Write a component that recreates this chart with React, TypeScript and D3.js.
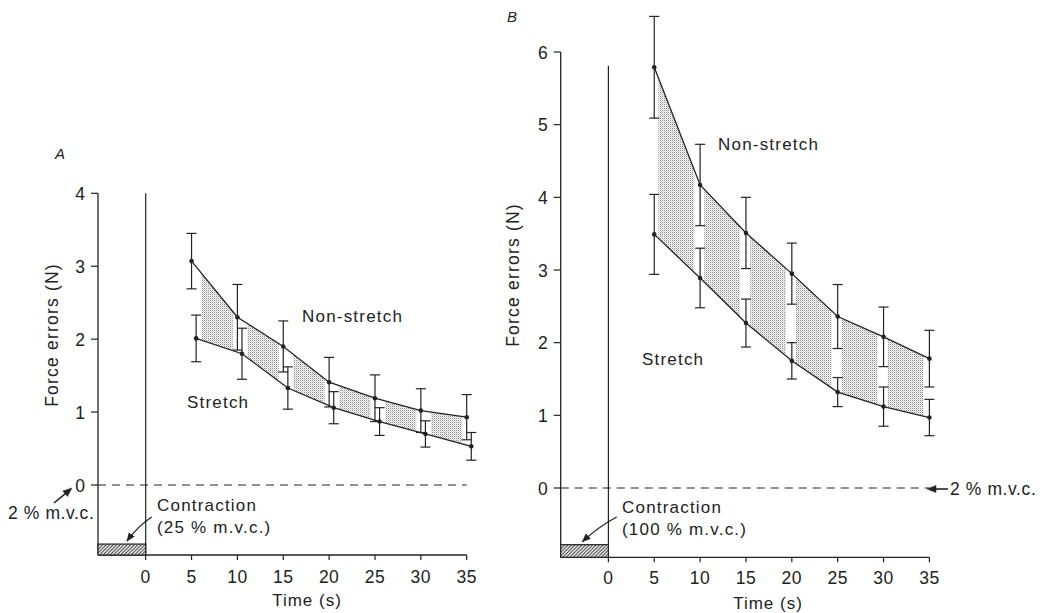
import React from 'react';
import * as d3 from 'd3';

// ---------- data ----------
const times = [5, 10, 15, 20, 25, 30, 35];
const xTicks = [0, 5, 10, 15, 20, 25, 30, 35];
const aYTicks = [0, 1, 2, 3, 4];
const bYTicks = [0, 1, 2, 3, 4, 5, 6];

const aNonStretch = [3.07, 2.3, 1.9, 1.41, 1.19, 1.02, 0.93];
const aNonStretchErr = [0.38, 0.45, 0.35, 0.34, 0.32, 0.3, 0.31];
const aStretch = [2.01, 1.8, 1.33, 1.06, 0.87, 0.7, 0.53];
const aStretchErr = [0.32, 0.35, 0.29, 0.22, 0.19, 0.18, 0.19];

const bNonStretch = [5.79, 4.17, 3.51, 2.95, 2.36, 2.08, 1.78];
const bNonStretchErr = [0.7, 0.56, 0.49, 0.42, 0.44, 0.41, 0.39];
const bStretch = [3.49, 2.89, 2.27, 1.75, 1.32, 1.12, 0.97];
const bStretchErr = [0.55, 0.41, 0.33, 0.25, 0.2, 0.27, 0.25];

const FONT = "'Liberation Sans', Arial, Helvetica, sans-serif";
const INK = '#222';

type Layout = {
  id: string;
  letter: string;
  letterPos: [number, number];
  left: number;
  right: number;
  y0: number;
  yMax: number;
  yTopPx: number;
  yTicks: number[];
  bottomVal: number;
  barTopVal: number;
  vlineTopVal: number;
  stretchOffset: number;
  gapAfter: number;
  gapBefore: number;
  nonStretch: number[];
  nonStretchErr: number[];
  stretch: number[];
  stretchErr: number[];
  yLabel: [number, number];
  timeLabel: [number, number];
  tickLabelDy: number;
  nonStretchLabel: [number, number];
  stretchLabel: [number, number];
  contraction: [number, number];
  contractionPct: string;
  contractionArrow: string;
  mvcArrow: [number, number, number, number];
  mvcText: [number, number];
};

const layoutA: Layout = {
  id: 'A',
  letter: 'A',
  letterPos: [55, 159],
  left: 98,
  right: 466.7,
  y0: 485,
  yMax: 4,
  yTopPx: 193.3,
  yTicks: aYTicks,
  bottomVal: -0.96,
  barTopVal: -0.81,
  vlineTopVal: 4.0,
  stretchOffset: 0.5,
  gapAfter: 0.6,
  gapBefore: 0.5,
  nonStretch: aNonStretch,
  nonStretchErr: aNonStretchErr,
  stretch: aStretch,
  stretchErr: aStretchErr,
  yLabel: [52, 335],
  timeLabel: [307, 606],
  tickLabelDy: 28,
  nonStretchLabel: [302, 322],
  stretchLabel: [187, 408],
  contraction: [157, 511],
  contractionPct: '(25 % m.v.c.)',
  contractionArrow: 'M151.7,517 Q138,526 127,541',
  mvcArrow: [54, 503, 72, 488],
  mvcText: [8, 519],
};

const layoutB: Layout = {
  id: 'B',
  letter: 'B',
  letterPos: [507, 22],
  left: 560.7,
  right: 929.4,
  y0: 488,
  yMax: 6,
  yTopPx: 52,
  yTicks: bYTicks,
  bottomVal: -0.954,
  barTopVal: -0.78,
  vlineTopVal: 5.81,
  stretchOffset: 0,
  gapAfter: 0.45,
  gapBefore: 0.65,
  nonStretch: bNonStretch,
  nonStretchErr: bNonStretchErr,
  stretch: bStretch,
  stretchErr: bStretchErr,
  yLabel: [513, 275],
  timeLabel: [768, 609],
  tickLabelDy: 27,
  nonStretchLabel: [718, 150],
  stretchLabel: [642, 365],
  contraction: [622, 513],
  contractionPct: '(100 % m.v.c.)',
  contractionArrow: 'M616.7,517 Q598,527 582.4,541.7',
  mvcArrow: [948, 489, 927, 489],
  mvcText: [950, 495],
};

const txt = (size = 17, ls = 1.2): React.CSSProperties => ({
  fontFamily: FONT,
  fontSize: size,
  letterSpacing: `${ls}px`,
  fill: INK,
});

// straight arrow with an explicit filled head at (x2, y2)
function arrowPaths(x1: number, y1: number, x2: number, y2: number) {
  const ang = Math.atan2(y2 - y1, x2 - x1);
  const L = 9;
  const W = 3.6;
  const bx = x2 - L * Math.cos(ang);
  const by = y2 - L * Math.sin(ang);
  const nx = -Math.sin(ang) * W;
  const ny = Math.cos(ang) * W;
  return {
    shaft: `M${x1},${y1} L${bx},${by}`,
    head: `M${x2},${y2} L${bx + nx},${by + ny} L${bx - nx},${by - ny} Z`,
  };
}

function Panel({ p }: { p: Layout }) {
  const x = d3.scaleLinear().domain([-5.2, 35]).range([p.left, p.right]);
  const y = d3.scaleLinear().domain([0, p.yMax]).range([p.y0, p.yTopPx]);
  const bottom = y(p.bottomVal);

  const nsPts: [number, number][] = times.map((t, i) => [x(t), y(p.nonStretch[i])]);
  const sPts: [number, number][] = times.map((t, i) => [x(t + p.stretchOffset), y(p.stretch[i])]);
  const line = d3.line();
  const areaPath = line([...nsPts, ...sPts.slice().reverse()]) + 'Z';

  const segs = times.slice(0, -1).map((t, i) => ({
    x0: x(t + p.stretchOffset + p.gapAfter),
    x1: x(times[i + 1] - p.gapBefore),
  }));

  const clipId = `clip-${p.id}`;
  const cap = 5;
  const mvc = arrowPaths(...p.mvcArrow);

  const errBar = (cx: number, v: number, e: number, key: string) => (
    <g key={key} stroke={INK} strokeWidth={1.2}>
      <line x1={cx} x2={cx} y1={y(v + e)} y2={y(v - e)} />
      <line x1={cx - cap} x2={cx + cap} y1={y(v + e)} y2={y(v + e)} />
      <line x1={cx - cap} x2={cx + cap} y1={y(v - e)} y2={y(v - e)} />
    </g>
  );

  return (
    <g>
      <defs>
        <clipPath id={clipId}>
          {segs.map((s, i) => (
            <rect key={i} x={s.x0} y={0} width={s.x1 - s.x0} height={613} />
          ))}
        </clipPath>
      </defs>

      {/* panel letter */}
      <text x={p.letterPos[0]} y={p.letterPos[1]} style={{ ...txt(15, 0), fontStyle: 'italic' }}>
        {p.letter}
      </text>

      {/* shaded difference */}
      <path d={areaPath} fill="url(#stipple)" clipPath={`url(#${clipId})`} />

      {/* axes */}
      <line x1={p.left} x2={p.left} y1={y(p.yMax)} y2={bottom} stroke={INK} strokeWidth={1.3} />
      <line x1={p.left} x2={x(35)} y1={bottom} y2={bottom} stroke={INK} strokeWidth={1.3} />
      {p.yTicks.map((v) => (
        <g key={`yt${v}`}>
          <line x1={p.left - 7} x2={p.left} y1={y(v)} y2={y(v)} stroke={INK} strokeWidth={1.2} />
          <text x={p.left - 13} y={y(v) + 6.5} textAnchor="end" style={txt(17.5, 0)}>
            {v}
          </text>
        </g>
      ))}
      {xTicks.map((v) => (
        <g key={`xt${v}`}>
          <line x1={x(v)} x2={x(v)} y1={bottom} y2={bottom + 5} stroke={INK} strokeWidth={1.2} />
          <text x={x(v)} y={bottom + p.tickLabelDy} textAnchor="middle" style={txt(17.5, 0.5)}>
            {v}
          </text>
        </g>
      ))}

      {/* stimulus onset line */}
      <line x1={x(0)} x2={x(0)} y1={y(p.vlineTopVal)} y2={bottom} stroke={INK} strokeWidth={1.2} />

      {/* zero / 2 % m.v.c. dashed line */}
      <line
        x1={p.left}
        x2={x(35)}
        y1={y(0)}
        y2={y(0)}
        stroke={INK}
        strokeWidth={1.2}
        strokeDasharray="8,6"
      />
      <path d={mvc.shaft} fill="none" stroke={INK} strokeWidth={1.6} />
      <path d={mvc.head} fill={INK} stroke={INK} strokeWidth={0.5} />
      <text x={p.mvcText[0]} y={p.mvcText[1]} style={txt(17.5, 0.6)}>
        2 % m.v.c.
      </text>

      {/* contraction bar */}
      <rect
        x={p.left}
        y={y(p.barTopVal)}
        width={x(0) - p.left}
        height={bottom - y(p.barTopVal)}
        fill="url(#hatch)"
        stroke={INK}
        strokeWidth={1.2}
      />
      <path d={p.contractionArrow} fill="none" stroke={INK} strokeWidth={1.2} markerEnd="url(#arrowhead)" />
      <text x={p.contraction[0]} y={p.contraction[1]} style={txt()}>
        Contraction
      </text>
      <text x={p.contraction[0]} y={p.contraction[1] + 22} style={txt()}>
        {p.contractionPct}
      </text>

      {/* error bars */}
      {times.map((t, i) => errBar(x(t), p.nonStretch[i], p.nonStretchErr[i], `ne${i}`))}
      {times.map((t, i) => errBar(x(t + p.stretchOffset), p.stretch[i], p.stretchErr[i], `se${i}`))}

      {/* lines */}
      <path d={line(nsPts) || ''} fill="none" stroke={INK} strokeWidth={1.3} />
      <path d={line(sPts) || ''} fill="none" stroke={INK} strokeWidth={1.3} />
      {nsPts.map((pt, i) => (
        <circle key={`nd${i}`} cx={pt[0]} cy={pt[1]} r={2.3} fill={INK} />
      ))}
      {sPts.map((pt, i) => (
        <circle key={`sd${i}`} cx={pt[0]} cy={pt[1]} r={2.3} fill={INK} />
      ))}

      {/* labels */}
      <text x={p.nonStretchLabel[0]} y={p.nonStretchLabel[1]} style={txt()}>
        Non-stretch
      </text>
      <text x={p.stretchLabel[0]} y={p.stretchLabel[1]} style={txt()}>
        Stretch
      </text>
      <text
        transform={`translate(${p.yLabel[0]},${p.yLabel[1]}) rotate(-90)`}
        textAnchor="middle"
        dominantBaseline="central"
        style={txt(17.5, 1.2)}
      >
        Force errors (N)
      </text>
      <text x={p.timeLabel[0]} y={p.timeLabel[1]} textAnchor="middle" style={txt(17, 1)}>
        Time (s)
      </text>
    </g>
  );
}

export default function App() {
  return (
    <div style={{ position: 'absolute', left: 0, top: 0 }}>
      <svg width={1044} height={613} viewBox="0 0 1044 613" style={{ display: 'block', background: '#fff' }}>
        <defs>
          <pattern id="stipple" patternUnits="userSpaceOnUse" width={2} height={2}>
            <rect x={0} y={0} width={2} height={2} fill="#fff" />
            <rect x={0} y={0} width={1} height={1} fill="#8a8a8a" />
            <rect x={1} y={1} width={1} height={1} fill="#cfcfcf" />
          </pattern>
          <pattern id="hatch" patternUnits="userSpaceOnUse" width={3.5} height={3.5}>
            <rect width={3.5} height={3.5} fill="#fff" />
            <path d="M-1,1 L1,-1 M0,3.5 L3.5,0 M2.5,4.5 L4.5,2.5" stroke={INK} strokeWidth={1} />
          </pattern>
          <marker
            id="arrowhead"
            viewBox="0 0 10 10"
            refX={9}
            refY={5}
            markerWidth={9}
            markerHeight={9}
            markerUnits="userSpaceOnUse"
            orient="auto"
          >
            <path d="M0,1 L10,5 L0,9 Z" fill={INK} />
          </marker>
        </defs>

        <Panel p={layoutA} />
        <Panel p={layoutB} />
      </svg>
    </div>
  );
}
